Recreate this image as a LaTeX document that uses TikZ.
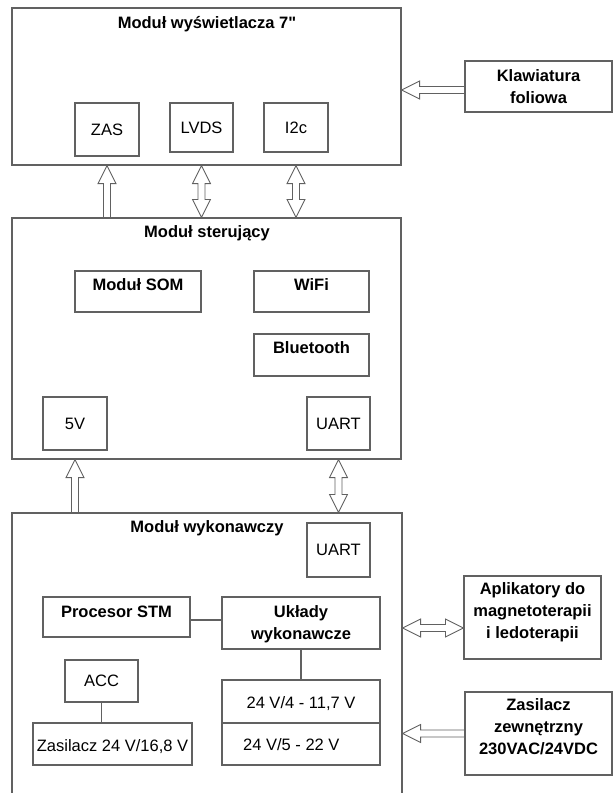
\documentclass[tikz,border=0pt]{standalone}
\usepackage{fontspec}
\setmainfont{Liberation Sans}[Ligatures=TeXOff]
\usetikzlibrary{calc}
\tikzset{
  box/.style={draw=black!62, line width=1.1pt, rectangle, inner sep=0pt, fill=none,
    text height=11.8pt, text depth=0pt, align=center, font=\fontsize{16.5}{22}\selectfont},
  bbox/.style={box, font=\fontsize{16.5}{22}\selectfont\bfseries},
  txt/.style={inner sep=0pt, text height=11.8pt, text depth=0pt, align=center,
    font=\fontsize{16.5}{22}\selectfont},
  btxt/.style={txt, font=\fontsize{16.5}{22}\selectfont\bfseries},
  twol/.style={text height=33.8pt, text depth=0pt},
  threel/.style={text height=55.8pt, text depth=0pt},
  arr/.style={draw=black!62, fill=white, line width=0.9pt, line join=miter},
  conn/.style={draw=black!62, line width=1.1pt}
}
\newcommand\sarrow[2]{%
  \coordinate (hbx) at ($(#2)!18pt!(#1)$);
  \path[arr] ($(#1)!3.5pt!90:(#2)$) -- ($(hbx)!3.5pt!90:(#2)$) -- ($(hbx)!9pt!90:(#2)$) -- (#2)
    -- ($(hbx)!9pt!-90:(#2)$) -- ($(hbx)!3.5pt!-90:(#2)$) -- ($(#1)!3.5pt!-90:(#2)$) -- cycle;}
\newcommand\darrow[2]{%
  \coordinate (hax) at ($(#1)!18pt!(#2)$);
  \coordinate (hbx) at ($(#2)!18pt!(#1)$);
  \path[arr] (#1) -- ($(hax)!9pt!90:(#2)$) -- ($(hax)!3.5pt!90:(#2)$) -- ($(hbx)!3.5pt!90:(#2)$)
    -- ($(hbx)!9pt!90:(#2)$) -- (#2) -- ($(hbx)!9pt!-90:(#2)$) -- ($(hbx)!3.5pt!-90:(#2)$)
    -- ($(hax)!3.5pt!-90:(#2)$) -- ($(hax)!9pt!-90:(#2)$) -- cycle;}
\begin{document}
\begin{tikzpicture}[x=1pt, y=-1pt]
\useasboundingbox[fill=white] (0,0) rectangle (614,793);
\clip (0,0) rectangle (614,793);

% Display module
\node[box, minimum width=389pt, minimum height=157pt] (disp) at (206.5,86.5) {};
\node[btxt] (dispt) at (207,23) {Moduł wyświetlacza 7"};
\node[box, minimum width=64pt, minimum height=53pt] (zas) at (107,129.5) {ZAS};
\node[box, minimum width=63pt, minimum height=49pt] (lvds) at (201.5,127.5) {LVDS};
\node[box, minimum width=64pt, minimum height=49pt] (i2c) at (296,127.5) {I2c};
\node[bbox, twol, minimum width=147pt, minimum height=51pt] (klaw) at (538.5,86.5) {Klawiatura\\foliowa};

% Control module
\node[box, minimum width=389pt, minimum height=241pt] (ctrl) at (206.5,338.5) {};
\node[btxt] (ctrlt) at (207,232) {Moduł sterujący};
\node[box, minimum width=126pt, minimum height=41pt] (som) at (138,291.5) {};
\node[btxt] at ([yshift=6.5pt]som.center) {Moduł SOM};
\node[box, minimum width=115pt, minimum height=41pt] (wifi) at (311.5,291.5) {};
\node[btxt] at ([yshift=6.5pt]wifi.center) {WiFi};
\node[box, minimum width=115pt, minimum height=42pt] (bt) at (311.5,355) {};
\node[btxt] at ([yshift=7pt]bt.center) {Bluetooth};
\node[box, minimum width=64pt, minimum height=53pt] (v5) at (75,423.5) {5V};
\node[box, minimum width=63pt, minimum height=53pt] (uarta) at (338.5,423.5) {UART};

% Executive module
\node[box, minimum width=390pt, minimum height=297pt] (exec) at (207,661.5) {};
\node[btxt] (exect) at (207,527) {Moduł wykonawczy};
\node[box, minimum width=63pt, minimum height=54pt] (uartb) at (338.5,550) {UART};
\node[box, minimum width=147pt, minimum height=40pt] (stm) at (116.5,617) {};
\node[btxt] at ([yshift=5pt]stm.center) {Procesor STM};
\node[bbox, twol, minimum width=158pt, minimum height=52pt] (uk) at (301,623) {Układy\\wykonawcze};
\node[box, minimum width=73pt, minimum height=42pt] (acc) at (101.5,681) {ACC};
\node[box, minimum width=159pt, minimum height=42pt] (zas24) at (112.5,744) {};
\node[txt] at ([yshift=-2pt]zas24.center) {Zasilacz 24 V/16,8 V};
\node[box, minimum width=158pt, minimum height=43pt] (v24a) at (301,701.5) {};
\node[txt] at ([yshift=-1.5pt]v24a.center) {24 V/4 - 11,7 V};
\node[box, minimum width=158pt, minimum height=42pt] (v24b) at (301,744) {};
\node[txt, anchor=west] at (243,745) {24 V/5 - 22 V};

% External boxes
\node[bbox, minimum width=137pt, minimum height=83pt] (apl) at (532.5,617.5) {};
\node[btxt, threel] at ([yshift=6.5pt]apl.center) {Aplikatory do\\magnetoterapii\\i ledoterapii};
\node[bbox, minimum width=147pt, minimum height=83pt] (zz) at (538.5,733.5) {};
\node[btxt, threel] at ([yshift=6.5pt]zz.center) {Zasilacz\\zewnętrzny\\230VAC/24VDC};

% Internal connectors
\draw[conn] ([yshift=-3pt]stm.east) -- ([yshift=-3pt]stm.east -| uk.west);
\draw[conn] (acc.south) -- (acc.south |- zas24.north);
\draw[conn] (uk.south) -- (v24a.north);

% Block arrows
\coordinate (za1) at (ctrl.north -| zas);
\coordinate (za2) at (disp.south -| zas);
\sarrow{za1}{za2}
\coordinate (lv1) at (disp.south -| lvds);
\coordinate (lv2) at (ctrl.north -| lvds);
\darrow{lv1}{lv2}
\coordinate (ic1) at (disp.south -| i2c);
\coordinate (ic2) at (ctrl.north -| i2c);
\darrow{ic1}{ic2}
\coordinate (kl1) at ([yshift=-3.5pt]klaw.west);
\coordinate (kl2) at (kl1 -| disp.east);
\sarrow{kl1}{kl2}
\coordinate (vf1) at (exec.north -| v5);
\coordinate (vf2) at (ctrl.south -| v5);
\sarrow{vf1}{vf2}
\coordinate (ua1) at (ctrl.south -| uarta);
\coordinate (ua2) at (exec.north -| uarta);
\darrow{ua1}{ua2}
\coordinate (ap1) at ([yshift=-10.5pt]apl.west);
\coordinate (ap2) at (ap1 -| exec.east);
\darrow{ap2}{ap1}
\coordinate (zz1) at (zz.west);
\coordinate (zz2) at (zz1 -| exec.east);
\sarrow{zz1}{zz2}
\end{tikzpicture}
\end{document}
